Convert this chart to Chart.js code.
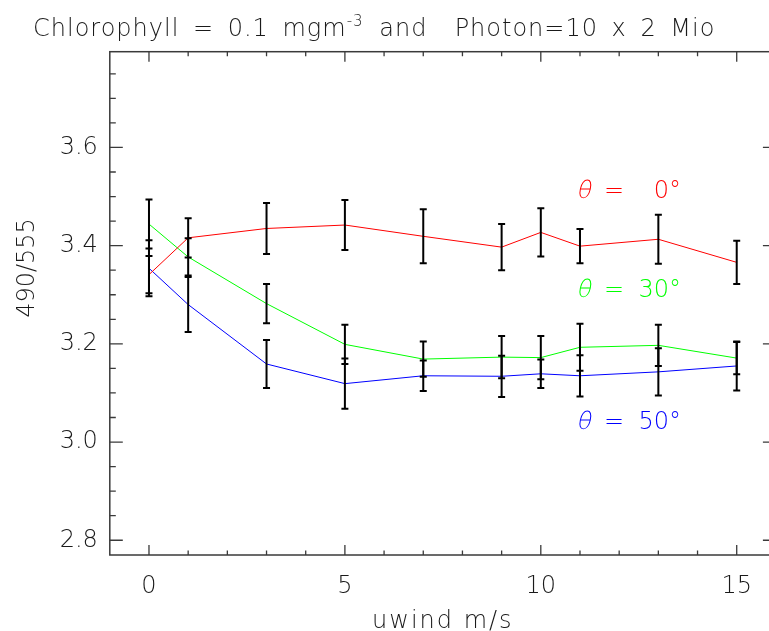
<!DOCTYPE html>
<html>
<head>
<meta charset="utf-8">
<script src="https://cdn.jsdelivr.net/npm/chart.js@4.4.1/dist/chart.umd.min.js"></script>
<style>
  html, body { margin: 0; padding: 0; background: #fff; overflow: hidden; width: 769px; height: 631px; }
  #wrap { position: relative; width: 790px; height: 631px; }
</style>
</head>
<body>
<div id="wrap"><canvas id="chart"></canvas></div>
<script>
// 490/555 reflectance ratio against wind speed for three sun zenith angles
const windSpeed    = [0, 1, 3, 5, 7, 9, 10, 11, 13, 15];
const ratioTheta0  = [3.341, 3.416, 3.435, 3.442, 3.419, 3.397, 3.427, 3.399, 3.413, 3.366];
const errorTheta0  = [0.038, 0.040, 0.052, 0.051, 0.055, 0.047, 0.049, 0.035, 0.050, 0.044];
const ratioTheta30 = [3.444, 3.377, 3.282, 3.199, 3.169, 3.173, 3.172, 3.193, 3.197, 3.171];
const errorTheta30 = [0.050, 0.038, 0.040, 0.040, 0.036, 0.043, 0.044, 0.048, 0.042, 0.033];
const ratioTheta50 = [3.354, 3.280, 3.159, 3.119, 3.135, 3.134, 3.139, 3.135, 3.143, 3.155];
const errorTheta50 = [0.057, 0.056, 0.049, 0.051, 0.031, 0.042, 0.029, 0.042, 0.048, 0.050];
const zenithAngles = [0, 30, 50];

const xMajorTicks = [0, 5, 10, 15];
const xTickLabels = ['0', '5', '10', '15'];
const yMajorTicks = [2.8, 3.0, 3.2, 3.4, 3.6];
const yTickLabels = ['2.8', '3.0', '3.2', '3.4', '3.6'];

// minor tick positions: every 1 m/s and every 0.05 in ratio
const xAllTicks = [];
for (let v = 0; v <= 15; v++) xAllTicks.push(v);
const yAllTicks = [];
for (let k = 0; k <= 19; k++) yAllTicks.push(+(2.8 + k * 0.05).toFixed(2));

const FONT = "'DejaVu Sans', 'Liberation Sans', sans-serif";
const TEXT = '#1a1a1a';

function majorIndex(list, v) {
  return list.findIndex(m => Math.abs(m - v) < 1e-6);
}

function series(values, errors, color, angle, at) {
  return {
    data: windSpeed.map((w, i) => ({ x: w, y: values[i] })),
    errors: errors,
    angle: angle,
    labelAt: at,
    borderColor: color,
    backgroundColor: color,
    borderWidth: 1,
    pointRadius: 0,
    tension: 0,
    fill: false
  };
}

// inward ticks on all four sides, IDL style
const framePlugin = {
  id: 'frame',
  beforeDatasetsDraw(chart) {
    const { ctx, chartArea: { left, right, top, bottom }, scales: { x, y } } = chart;
    ctx.save();
    ctx.strokeStyle = '#3a3a3a';
    ctx.lineWidth = 1.5;
    ctx.strokeRect(left, top, right - left, bottom - top);
    ctx.lineWidth = 1.3;
    ctx.beginPath();
    x.ticks.forEach(t => {
      const px = x.getPixelForValue(t.value);
      const len = majorIndex(xMajorTicks, t.value) >= 0 ? 10 : 4.5;
      ctx.moveTo(px, bottom); ctx.lineTo(px, bottom - len);
      ctx.moveTo(px, top); ctx.lineTo(px, top + len);
    });
    y.ticks.forEach(t => {
      const py = y.getPixelForValue(t.value);
      const len = majorIndex(yMajorTicks, t.value) >= 0 ? 13 : 6;
      ctx.moveTo(left, py); ctx.lineTo(left + len, py);
      ctx.moveTo(right, py); ctx.lineTo(right - len, py);
    });
    ctx.stroke();
    ctx.restore();
  }
};

// vertical error bars with caps, drawn over the lines
const errorBarPlugin = {
  id: 'errorBars',
  afterDatasetsDraw(chart) {
    const { ctx, scales: { x, y } } = chart;
    ctx.save();
    ctx.strokeStyle = '#000';
    ctx.lineWidth = 2;
    chart.data.datasets.forEach(ds => {
      ds.data.forEach((p, i) => {
        const e = ds.errors[i];
        const px = x.getPixelForValue(p.x);
        const yTop = y.getPixelForValue(p.y + e);
        const yBot = y.getPixelForValue(p.y - e);
        ctx.beginPath();
        ctx.moveTo(px, yTop); ctx.lineTo(px, yBot);
        ctx.moveTo(px - 3.5, yTop); ctx.lineTo(px + 3.5, yTop);
        ctx.moveTo(px - 3.5, yBot); ctx.lineTo(px + 3.5, yBot);
        ctx.stroke();
      });
    });
    ctx.restore();
  }
};

// titles and the zenith-angle labels
const textPlugin = {
  id: 'texts',
  afterDraw(chart) {
    const { ctx, chartArea, scales: { x, y } } = chart;
    ctx.save();
    ctx.fillStyle = TEXT;
    ctx.textBaseline = 'alphabetic';
    ctx.textAlign = 'left';

    // plot title with superscript unit
    const big = `300 24px ${FONT}`;
    const small = `300 15px ${FONT}`;
    ctx.font = big;
    ctx.letterSpacing = '1px';
    ctx.wordSpacing = '5px';
    let tx = 33;
    const ty = 36;
    const part1 = 'Chlorophyll = 0.1 mgm';
    ctx.fillText(part1, tx, ty);
    tx += ctx.measureText(part1).width;
    ctx.font = small;
    ctx.fillText('-3', tx, ty - 10);
    tx += ctx.measureText('-3').width + 2;
    ctx.font = big;
    ctx.fillText(' and  Photon=10 x 2 Mio', tx, ty);
    ctx.wordSpacing = '0px';

    // x axis title
    ctx.textAlign = 'center';
    ctx.letterSpacing = '2px';
    ctx.fillText('uwind m/s', (chartArea.left + chartArea.right) / 2, 628);

    // y axis title
    ctx.save();
    ctx.translate(34, 268);
    ctx.rotate(-Math.PI / 2);
    ctx.letterSpacing = '0px';
    ctx.fillText('490/555', 0, 0);
    ctx.restore();

    // zenith angle annotations (slanted theta)
    ctx.letterSpacing = '0px';
    chart.data.datasets.forEach(ds => {
      const lx = x.getPixelForValue(ds.labelAt.x);
      const ly = y.getPixelForValue(ds.labelAt.y) + 9;
      ctx.fillStyle = ds.borderColor;
      ctx.font = big;
      ctx.textAlign = 'left';
      ctx.save();
      ctx.translate(lx, ly);
      ctx.transform(1, 0, -0.22, 1, 0, 0);
      ctx.fillText('\u03B8', 0, 0);
      ctx.restore();
      ctx.fillText('=', lx + 28, ly);
      ctx.textAlign = 'right';
      ctx.fillText(ds.angle + '\u00B0', lx + 105, ly);
    });
    ctx.restore();
  }
};

new Chart(document.getElementById('chart'), {
  type: 'line',
  data: {
    datasets: [
      series(ratioTheta0,  errorTheta0,  '#ff0000', zenithAngles[0], { x: 10.9, y: 3.515 }),
      series(ratioTheta30, errorTheta30, '#00ff00', zenithAngles[1], { x: 10.9, y: 3.313 }),
      series(ratioTheta50, errorTheta50, '#0000ff', zenithAngles[2], { x: 10.9, y: 3.045 })
    ]
  },
  options: {
    responsive: true,
    maintainAspectRatio: false,
    animation: false,
    devicePixelRatio: 1,
    layout: { padding: { top: 51.7, right: 14.1, left: 0, bottom: 0 } },
    plugins: { legend: { display: false }, title: { display: false }, tooltip: { enabled: false } },
    scales: {
      x: {
        type: 'linear',
        min: -1,
        max: 16,
        grid: { display: false, drawTicks: false },
        border: { display: false },
        afterBuildTicks: s => { s.ticks = xAllTicks.map(v => ({ value: v })); },
        afterFit: s => { s.height = 76; },
        ticks: {
          autoSkip: false,
          maxRotation: 0,
          padding: 17,
          color: TEXT,
          font: { family: FONT, size: 24, weight: '300' },
          callback: v => { const k = majorIndex(xMajorTicks, v); return k >= 0 ? xTickLabels[k] : ''; }
        }
      },
      y: {
        type: 'linear',
        min: 2.77,
        max: 3.795,
        grid: { display: false, drawTicks: false },
        border: { display: false },
        afterBuildTicks: s => { s.ticks = yAllTicks.map(v => ({ value: v })); },
        afterFit: s => { s.width = 109.8; },
        ticks: {
          autoSkip: false,
          padding: 12,
          color: TEXT,
          font: { family: FONT, size: 24, weight: '300' },
          callback: v => { const k = majorIndex(yMajorTicks, v); return k >= 0 ? yTickLabels[k] : ''; }
        }
      }
    }
  },
  plugins: [framePlugin, errorBarPlugin, textPlugin]
});
</script>
</body>
</html>
